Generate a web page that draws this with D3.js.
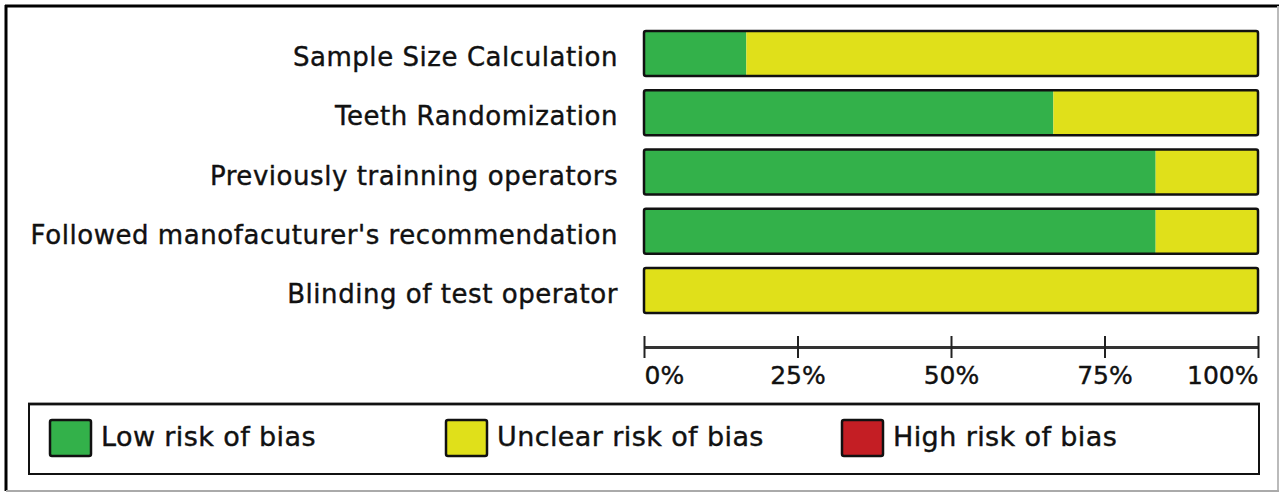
<!DOCTYPE html>
<html><head><meta charset="utf-8">
<script src="https://cdn.jsdelivr.net/npm/d3@7/dist/d3.min.js"></script>
<style>html,body{margin:0;padding:0;background:#fff;}svg{display:block;}</style>
</head><body>
<svg id="c" width="1282" height="493"></svg>
<script>
const categories = ["Sample Size Calculation","Teeth Randomization","Previously trainning operators","Followed manofacuturer's recommendation","Blinding of test operator"];
const lowRisk = [16.67, 66.67, 83.33, 83.33, 0];
const unclearRisk = [83.33, 33.33, 16.67, 16.67, 100];
const highRisk = [0, 0, 0, 0, 0];
const tickValues = [0, 25, 50, 75, 100];
const tickLabels = ["0%","25%","50%","75%","100%"];
const legendLabels = ["Low risk of bias","Unclear risk of bias","High risk of bias"];
const colors = ["#33b14a","#e0e01a","#c41e24"];

const svg = d3.select("#c");
const font = "'DejaVu Sans', sans-serif";

// outer frame
svg.append("line").attr("x1",5).attr("x2",1279).attr("y1",6).attr("y2",6).attr("stroke","#000").attr("stroke-width",3);
svg.append("line").attr("x1",6).attr("x2",6).attr("y1",5).attr("y2",491).attr("stroke","#000").attr("stroke-width",3);
svg.append("line").attr("x1",1278).attr("x2",1278).attr("y1",6).attr("y2",491).attr("stroke","#bbb").attr("stroke-width",2);
svg.append("line").attr("x1",6).attr("x2",1279).attr("y1",491).attr("y2",491).attr("stroke","#aaa").attr("stroke-width",2);

const x = d3.scaleLinear().domain([0,100]).range([644,1258]);
const y = d3.scaleBand().domain(categories).range([24,320]).paddingInner(0.24).paddingOuter(0.12);

const stackData = categories.map((c,i)=>({cat:c, low:lowRisk[i], unclear:unclearRisk[i], high:highRisk[i]}));
const stack = d3.stack().keys(["low","unclear","high"])(stackData);

const g = svg.append("g");
stack.forEach((layer,li)=>{
  g.selectAll(null).data(layer.filter(d=>d[1]-d[0]>0)).enter().append("rect")
    .attr("x",d=>x(d[0])).attr("width",d=>x(d[1])-x(d[0]))
    .attr("y",d=>y(d.data.cat)).attr("height",y.bandwidth())
    .attr("fill",colors[li]);
});
// bar outlines
g.selectAll(null).data(categories).enter().append("rect")
  .attr("x",x(0)).attr("width",x(100)-x(0))
  .attr("y",d=>y(d)).attr("height",y.bandwidth())
  .attr("rx",2).attr("fill","none").attr("stroke","#111").attr("stroke-width",2.5);

// category labels
g.selectAll(null).data(categories).enter().append("text")
  .attr("x",618).attr("y",d=>y(d)+y.bandwidth()/2+12.5)
  .attr("text-anchor","end")
  .attr("font-family",font).attr("font-size",26).attr("letter-spacing",0.55)
  .attr("fill","#111").attr("stroke","#111").attr("stroke-width",0.4)
  .text(d=>d);

// axis
const axisY = 347;
const axis = d3.axisBottom(x).tickValues(tickValues).tickSize(0).tickFormat("");
const ag = svg.append("g").attr("transform",`translate(0,${axisY})`).call(axis);
ag.select(".domain").attr("stroke","#333").attr("stroke-width",3);
ag.selectAll(".tick").append("line").attr("y1",-11).attr("y2",11).attr("stroke","#222").attr("stroke-width",2);
ag.selectAll(".tick").append("text")
  .attr("y",37).attr("fill","#111").attr("stroke","#111").attr("stroke-width",0.4)
  .attr("font-family",font).attr("font-size",25)
  .attr("text-anchor",(d,i)=> i===0?"start":(i===tickValues.length-1?"end":"middle"))
  .text((d,i)=>tickLabels[i]);

// legend
svg.append("line").attr("x1",28).attr("x2",1260).attr("y1",404).attr("y2",404).attr("stroke","#444").attr("stroke-width",3);
svg.append("rect").attr("x",29).attr("y",404).attr("width",1230).attr("height",70).attr("fill","none").attr("stroke","#111").attr("stroke-width",2);
const lx = [50, 446, 842];
legendLabels.forEach((l,i)=>{
  svg.append("rect").attr("x",lx[i]).attr("y",420).attr("width",41).attr("height",36).attr("rx",2)
    .attr("fill",colors[i]).attr("stroke","#111").attr("stroke-width",2.5);
  svg.append("text").attr("x",lx[i]+51).attr("y",446).attr("font-family",font).attr("font-size",27).attr("letter-spacing",0.4)
    .attr("fill","#111").attr("stroke","#111").attr("stroke-width",0.4).text(l);
});
</script>
</body></html>
